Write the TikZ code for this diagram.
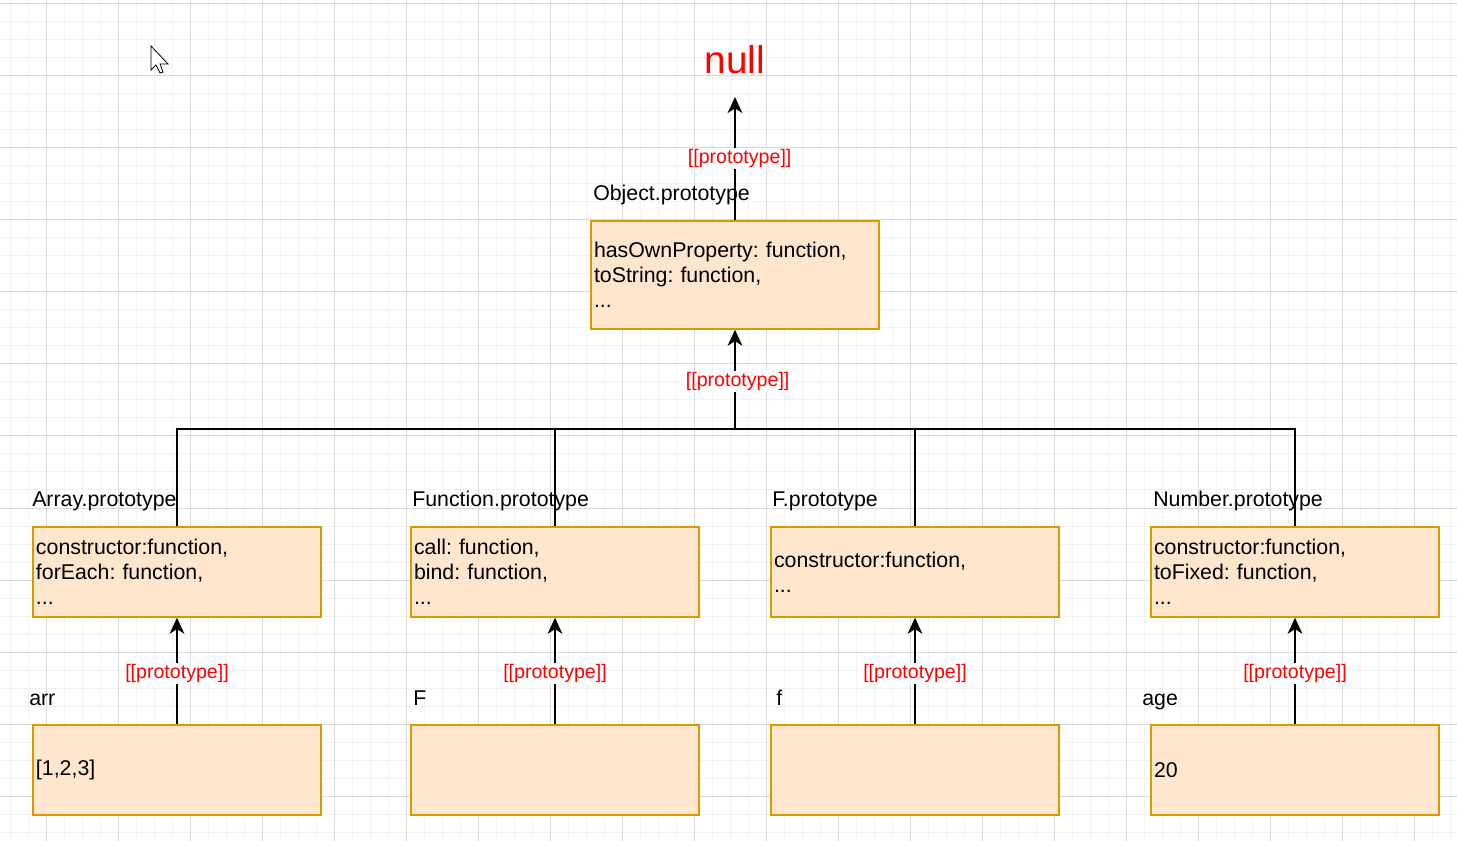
\documentclass[tikz,border=0pt]{standalone}
\usepackage{fontspec}
\setmainfont{Liberation Sans}
\usetikzlibrary{arrows.meta}
\definecolor{boxfill}{HTML}{FFE6CC}
\definecolor{boxline}{HTML}{D79B00}
\definecolor{protored}{HTML}{FF0000}
\frenchspacing

\begin{document}
\begin{tikzpicture}[x=0.75pt,y=-0.75pt,
  objbox/.style={draw=boxline,fill=boxfill,line width=1.1pt,minimum width=216pt,minimum height=67.5pt,
    text width=211.5pt,inner xsep=2.25pt,inner ysep=0pt,align=left,font=\fontsize{16}{18.75}\selectfont},
  title/.style={anchor=base west,inner sep=0pt,font=\fontsize{16}{18.75}\selectfont},
  proto/.style={fill=white,text=protored,inner sep=1pt,font=\fontsize{14.7}{16}\selectfont},
  link/.style={line width=1.5pt},
  uparrow/.style={link,-{Stealth[length=12pt,width=11pt,inset=3.5pt]}},
  minorgrid/.style={draw=black!5,line width=0.75pt},
  majorgrid/.style={draw=black!15,line width=0.75pt}]
\useasboundingbox (0,0) rectangle (1457,841);

% grid
\foreach \i in {0,...,80} \draw[minorgrid] ({10+18*\i},0)--({10+18*\i},841);
\foreach \i in {0,...,46} \draw[minorgrid] (0,{4+18*\i})--(1457,{4+18*\i});
\foreach \i in {0,...,19} \draw[majorgrid] ({46+72*\i},0)--({46+72*\i},841);
\foreach \i in {0,...,11} \draw[majorgrid] (0,{4+72*\i})--(1457,{4+72*\i});

% mouse pointer
\draw[fill=white,line width=0.6pt] (151,46)--(151,70)--(156,65)--(160,73)--(163,72)--(160,64)--(168,64)--cycle;

\node[text=protored,inner sep=0pt,font=\fontsize{29}{32}\selectfont] (null) at (735,60) {null};
\coordinate (nulltip) at (735,97);
\coordinate (hub) at (735,429);

\node[title] (objname) at (593,201) {Object.prototype};
\node[objbox,minimum height=81pt] (obj) at (735,275) {hasOwnProperty: function,\\toString: function,\\...};

\node[title] (aproname) at (32,507) {Array.prototype};
\node[title] (fproname) at (412,507) {Function.prototype};
\node[title] (Fproname) at (772,507) {F.prototype};
\node[title] (nproname) at (1153,507) {Number.prototype};

\node[objbox] (apro) at (177,572) {constructor:function,\\forEach: function,\\...};
\node[objbox] (fpro) at (555,572) {call: function,\\bind: function,\\...};
\node[objbox] (Fpro) at (915,572) {constructor:function,\\...};
\node[objbox] (npro) at (1295,572) {constructor:function,\\toFixed: function,\\...};

\node[title] (arrname) at (29,705) {arr};
\node[title] (fnname) at (413,705) {F};
\node[title] (fobjname) at (776,705) {f};
\node[title] (agename) at (1142,705) {age};

\node[objbox] (arr) at (177,770) {[1,2,3]};
\node[objbox] (fn) at (555,770) {};
\node[objbox] (fobj) at (915,770) {};
\node[objbox] (age) at (1295,770) {20};

\draw[uparrow] (obj.north) -- node[proto,pos=0.5,xshift=3.5pt]{[[prototype]]} (nulltip);
\draw[uparrow] (hub) -- node[proto,pos=0.48,xshift=2pt]{[[prototype]]} (obj.south);
\foreach \p in {apro,fpro,Fpro,npro}
  \draw[link] (\p.north) |- (hub);

\draw[uparrow] (arr.north) -- node[proto,pos=0.48]{[[prototype]]} (apro.south);
\draw[uparrow] (fn.north) -- node[proto,pos=0.48]{[[prototype]]} (fpro.south);
\draw[uparrow] (fobj.north) -- node[proto,pos=0.48]{[[prototype]]} (Fpro.south);
\draw[uparrow] (age.north) -- node[proto,pos=0.48]{[[prototype]]} (npro.south);
\end{tikzpicture}
\end{document}
